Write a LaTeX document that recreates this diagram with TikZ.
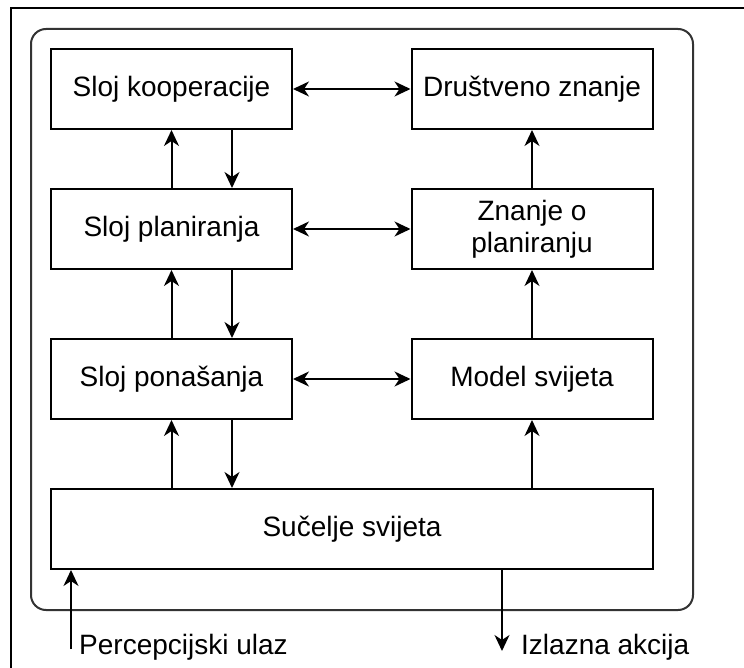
\documentclass[tikz,border=0pt]{standalone}
\usepackage{fontspec}
\setmainfont{Liberation Sans}
\usetikzlibrary{arrows.meta,calc}
\begin{document}
\begin{tikzpicture}[x=1pt,y=-1pt,
  box/.style={draw,line width=2pt,rectangle,minimum width=241pt,minimum height=80pt,inner sep=0pt,align=center,font=\fontsize{28}{32}\selectfont},
  conn/.style={line width=2pt,-{Stealth[length=16pt,width=15pt,inset=5pt]}},
  bconn/.style={line width=2pt,{Stealth[length=16pt,width=15pt,inset=5pt]}-{Stealth[length=16pt,width=15pt,inset=5pt]}},
  lbl/.style={font=\fontsize{28}{32}\selectfont,inner sep=0pt,anchor=west}]
\useasboundingbox (0,0) rectangle (744,668);
\fill[white] (0,0) rectangle (744,668);
% outer frame (cropped)
\draw[line width=2pt] (11,668) -- (11,8) -- (744,8);
% rounded container
\draw[line width=2pt,black!80,rounded corners=15pt] (31,29) rectangle (693,610);
% boxes
\node[box] (ko) at (171.5,89) {Sloj kooperacije};
\node[box] (dz) at (532,89) {Društveno znanje};
\node[box] (pl) at (171.5,229) {Sloj planiranja};
\node[box] (zp) at (532,229) {Znanje o\\planiranju};
\node[box] (pn) at (171.5,379) {Sloj ponašanja};
\node[box] (ms) at (532,379) {Model svijeta};
\node[box,minimum width=602pt] (su) at (352,529) {Sučelje svijeta};
% horizontal double arrows
\draw[bconn] (ko.east) -- (dz.west);
\draw[bconn] (pl.east) -- (zp.west);
\draw[bconn] (pn.east) -- (ms.west);
% left column vertical arrows
\draw[conn] (pl.north) -- (ko.south);
\draw[conn] ([xshift=60.5pt]ko.south) -- ([xshift=60.5pt]pl.north);
\draw[conn] (pn.north) -- (pl.south);
\draw[conn] ([xshift=60.5pt]pl.south) -- ([xshift=60.5pt]pn.north);
\draw[conn] (su.north -| pn.south) -- (pn.south);
\draw[conn] ([xshift=60.5pt]pn.south) -- ([xshift=60.5pt]pn.south |- su.north);
% right column vertical arrows
\draw[conn] (zp.north) -- (dz.south);
\draw[conn] (ms.north) -- (zp.south);
\draw[conn] (su.north -| ms.south) -- (ms.south);
% input / output
\coordinate (pin) at (71,649);
\coordinate (pout) at (502,651);
\draw[conn] (pin) -- (pin |- su.south);
\draw[conn] (pout |- su.south) -- (pout);
\node[lbl] (pt) at (79,647) {Percepcijski ulaz};
\node[lbl] (ot) at (521,647) {Izlazna akcija};
\end{tikzpicture}
\end{document}
